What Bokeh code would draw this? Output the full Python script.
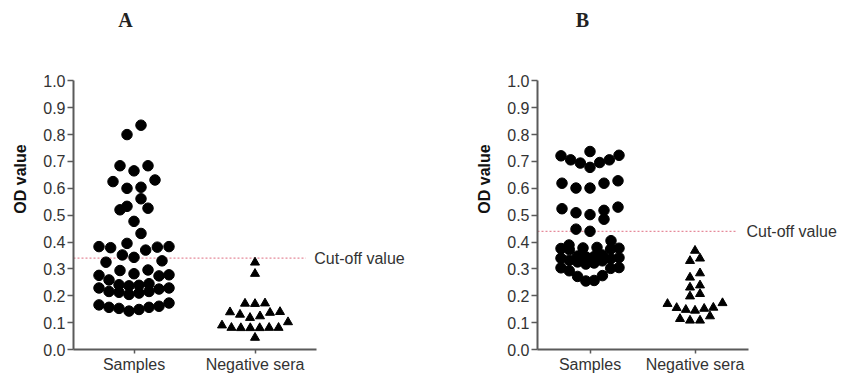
import numpy as np
from bokeh.plotting import figure
from bokeh.models import Label, FixedTicker, Range1d, NumeralTickFormatter
from bokeh.layouts import row
from bokeh.embed import file_html
from bokeh.resources import INLINE

categories = ["Samples", "Negative sera"]
y_ticks = [0.0, 0.1, 0.2, 0.3, 0.4, 0.5, 0.6, 0.7, 0.8, 0.9, 1.0]

# Panel A
a_samples = [0.835, 0.800, 0.684, 0.684, 0.665, 0.631, 0.625, 0.604, 0.600, 0.561,
             0.533, 0.526, 0.520, 0.477, 0.432,
             0.395, 0.383, 0.381, 0.379, 0.383, 0.370,
             0.352, 0.343, 0.330, 0.325,
             0.296, 0.294, 0.282, 0.278, 0.276, 0.274,
             0.259, 0.245, 0.241, 0.239, 0.237, 0.229, 0.229, 0.225, 0.216, 0.216,
             0.213, 0.210, 0.205,
             0.173, 0.166, 0.161, 0.157, 0.157, 0.153, 0.149, 0.143]
a_negative = [0.324, 0.282, 0.172, 0.170, 0.171, 0.140, 0.137, 0.139, 0.130, 0.124,
              0.118, 0.102, 0.090, 0.081, 0.080, 0.081, 0.080, 0.081, 0.080, 0.044]
a_cutoff = 0.34

# Panel B
b_samples = [0.737, 0.723, 0.721, 0.706, 0.706, 0.696, 0.694, 0.678,
             0.628, 0.619, 0.619, 0.601, 0.601,
             0.530, 0.524, 0.518, 0.509, 0.502, 0.485,
             0.448, 0.440, 0.405,
             0.389, 0.380, 0.378, 0.377, 0.376, 0.374, 0.372,
             0.352, 0.348, 0.346, 0.345, 0.342, 0.340, 0.338,
             0.332, 0.330, 0.326, 0.322, 0.318,
             0.305, 0.304, 0.302, 0.293, 0.275, 0.272, 0.257, 0.255]
b_negative = [0.368, 0.339, 0.330, 0.284, 0.268, 0.239, 0.231, 0.207, 0.198, 0.173,
              0.170, 0.156, 0.155, 0.152, 0.148, 0.145, 0.124, 0.114, 0.108, 0.108]
b_cutoff = 0.44

PX_PER_Y = 271          # pixels for one OD unit
TOP = 8
BOTTOM = 23
FRAME_H = 344           # frame reaches up to hold the panel letter
Y_END = FRAME_H / PX_PER_Y
AXIS_COLOR = "#5a5a5a"
TEXT_COLOR = "#333333"


def row_layout(values, gap, max_n, spacing, max_w, px_per_x):
    """Scatter-dot-plot layout: close values share a row, spread centre-out."""
    vals = np.asarray(values, dtype=float)
    order = np.argsort(vals, kind="stable")
    xs = np.zeros(len(vals))
    groups, cur = [], []
    for i in order:
        if cur and (vals[i] - vals[cur[0]] >= gap or len(cur) >= max_n):
            groups.append(cur)
            cur = []
        cur.append(i)
    groups.append(cur)
    for g in groups:
        n = len(g)
        s = spacing if n == 1 else min(spacing, max_w / (n - 1))
        slots = [(k - (n - 1) / 2) * s for k in range(n)]
        slots.sort(key=lambda c: (abs(c), c))
        for idx, c in zip(g, slots):
            xs[idx] = c
    return xs / px_per_x


def make_panel(letter, samples, negative, cutoff, width, border_left, x_end,
               line_end, letter_x, dot_w, tri_w):
    frame_w = width - border_left
    px_per_x = frame_w / (x_end - 0.5)
    p = figure(width=width, height=TOP + FRAME_H + BOTTOM,
               x_range=Range1d(0.5, x_end), y_range=Range1d(0.0, Y_END),
               output_backend="svg", toolbar_location=None,
               min_border_left=border_left, min_border_right=0,
               min_border_top=TOP, min_border_bottom=BOTTOM)
    p.outline_line_color = None
    p.grid.visible = False
    p.background_fill_color = "white"
    p.border_fill_color = "white"

    # x axis
    xa = p.xaxis[0]
    xa.ticker = FixedTicker(ticks=[1, 2])
    xa.major_label_overrides = {1: categories[0], 2: categories[1]}
    xa.bounds = (0.5, 2.51)
    xa.axis_line_color = AXIS_COLOR
    xa.axis_line_width = 2
    xa.major_tick_line_color = AXIS_COLOR
    xa.major_tick_line_width = 1.5
    xa.major_tick_out = 4
    xa.major_tick_in = 0
    xa.minor_tick_line_color = None
    xa.major_label_standoff = 2
    xa.major_label_text_font = "Liberation Sans"
    xa.major_label_text_font_size = "16px"
    xa.major_label_text_color = TEXT_COLOR

    # y axis
    ya = p.yaxis[0]
    ya.ticker = FixedTicker(ticks=y_ticks)
    ya.bounds = (0.0, 1.0)
    ya.formatter = NumeralTickFormatter(format="0.0")
    ya.axis_line_color = AXIS_COLOR
    ya.axis_line_width = 2
    ya.major_tick_line_color = AXIS_COLOR
    ya.major_tick_line_width = 1.5
    ya.major_tick_out = 6
    ya.major_tick_in = 0
    ya.minor_tick_line_color = None
    ya.major_label_standoff = 2
    ya.major_label_text_font = "Liberation Sans"
    ya.major_label_text_font_size = "16px"
    ya.major_label_text_color = TEXT_COLOR
    ya.axis_label = "OD value"
    ya.axis_label_text_font = "Liberation Sans"
    ya.axis_label_text_font_style = "bold"
    ya.axis_label_text_font_size = "16px"
    ya.axis_label_text_color = "#111111"
    ya.axis_label_standoff = 11

    # cut-off line and label
    p.line(x=[0.5, line_end], y=[cutoff, cutoff], line_color="#e58a9a",
           line_dash="2 2", line_width=1.2)
    p.add_layout(Label(x=2.49, y=cutoff, text="Cut-off value", text_baseline="middle",
                       text_font="Liberation Sans", text_font_size="16px",
                       text_color=TEXT_COLOR))

    # points
    sx = 1 + row_layout(samples, 0.05, 8, 14, dot_w, px_per_x)
    nx = 2 + row_layout(negative, 0.03, 8, 10, tri_w, px_per_x)
    p.scatter(x=sx, y=samples, marker="circle", size=10.5, color="black")
    p.scatter(x=nx, y=negative, marker="triangle", size=9, color="black")

    # panel letter (screen units, measured from the frame's bottom-left)
    p.add_layout(Label(x=letter_x, y=FRAME_H - 14, x_units="screen", y_units="screen",
                       text=letter, text_align="center", text_baseline="middle",
                       text_font="Liberation Serif", text_font_style="bold",
                       text_font_size="20px", text_color="#222222"))
    return p


pA = make_panel("A", a_samples, a_negative, a_cutoff, width=470, border_left=73,
                x_end=0.5 + 397 / 121, line_end=2.42, letter_x=52,
                dot_w=70, tri_w=66)
pB = make_panel("B", b_samples, b_negative, b_cutoff, width=371, border_left=67,
                x_end=0.5 + 304 / 105, line_end=2.40, letter_x=45,
                dot_w=58, tri_w=55)

layout = row(pA, pB)
open("out.html", "w").write(file_html(layout, INLINE))
